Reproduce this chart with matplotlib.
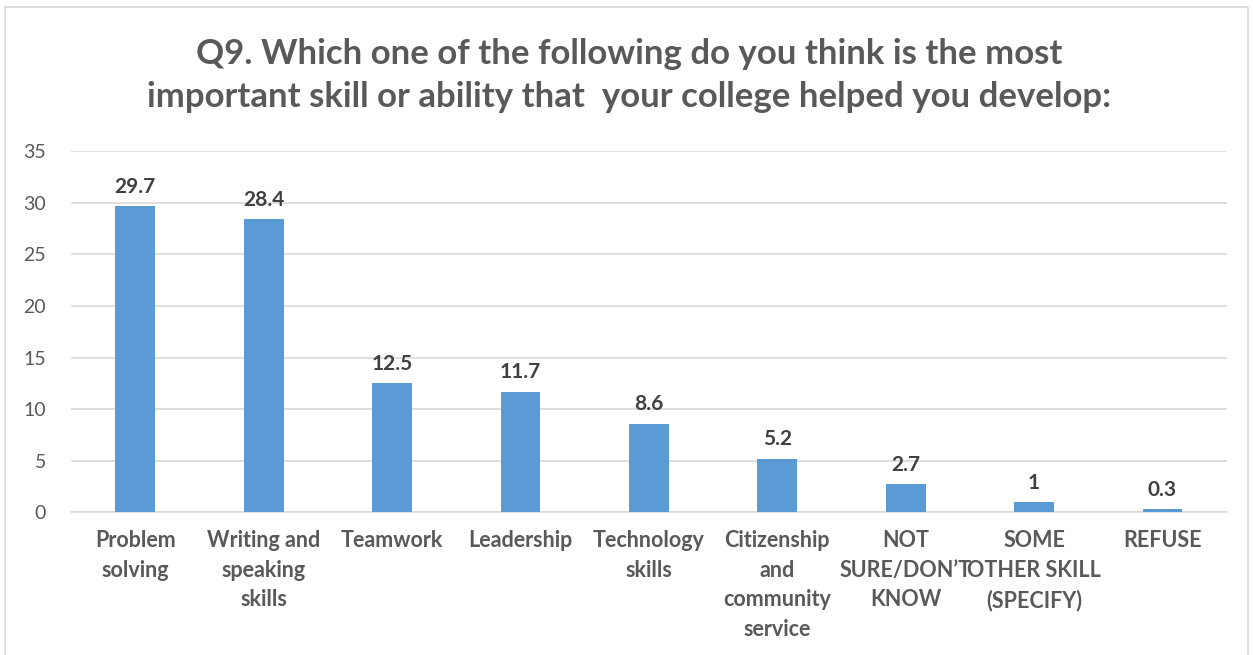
import matplotlib.pyplot as plt
from matplotlib.patches import Rectangle

categories = ["Problem\nsolving", "Writing and\nspeaking\nskills", "Teamwork", "Leadership",
              "Technology\nskills", "Citizenship\nand\ncommunity\nservice", "NOT\nSURE/DON\u2019T\nKNOW",
              "SOME\nOTHER SKILL\n(SPECIFY)", "REFUSE"]
values = [29.7, 28.4, 12.5, 11.7, 8.6, 5.2, 2.7, 1, 0.3]
value_labels = ["29.7", "28.4", "12.5", "11.7", "8.6", "5.2", "2.7", "1", "0.3"]
yticks = [0, 5, 10, 15, 20, 25, 30, 35]

plt.rcParams['font.family'] = ['Lato', 'DejaVu Sans']
grey = '#595959'

fig = plt.figure(figsize=(12.53, 6.55), dpi=100)
ax = fig.add_axes([0.0567, 0.218, 0.9223, 0.551])

# chart border
fig.patches.append(Rectangle((0.004, -0.01), 0.992, 1.0, transform=fig.transFigure,
                             fill=False, edgecolor='#D9D9D9', linewidth=1.2))

x = range(len(categories))
ax.bar(x, values, width=0.31, color='#5B9BD5', zorder=3)
for i, v in enumerate(values):
    ax.text(i, v + 0.9, value_labels[i], ha='center', va='bottom', fontsize=15,
            fontweight='bold', color='#404040')

ax.set_xlim(-0.5, len(categories) - 0.5)
ax.set_ylim(0, 35)
ax.set_yticks(yticks)
ax.yaxis.grid(True, color='#D9D9D9', linewidth=1.2, zorder=0)
ax.set_xticks(list(x))
ax.set_xticklabels(categories, fontsize=15.5, fontweight='bold', color=grey, linespacing=1.5)
ax.tick_params(axis='y', labelsize=14, labelcolor=grey, length=0, pad=18)
ax.tick_params(axis='x', length=0, pad=13)
for s in ['top', 'right', 'left']:
    ax.spines[s].set_visible(False)
ax.spines['bottom'].set_color('#D9D9D9')
ax.spines['bottom'].set_linewidth(1.2)

fig.text(0.502, 0.885, "Q9. Which one of the following do you think is the most\n"
         "important skill or ability that  your college helped you develop:",
         ha='center', va='center', fontsize=25, fontweight='bold', color=grey, linespacing=1.4)

fig.savefig('out.png', dpi=100)
